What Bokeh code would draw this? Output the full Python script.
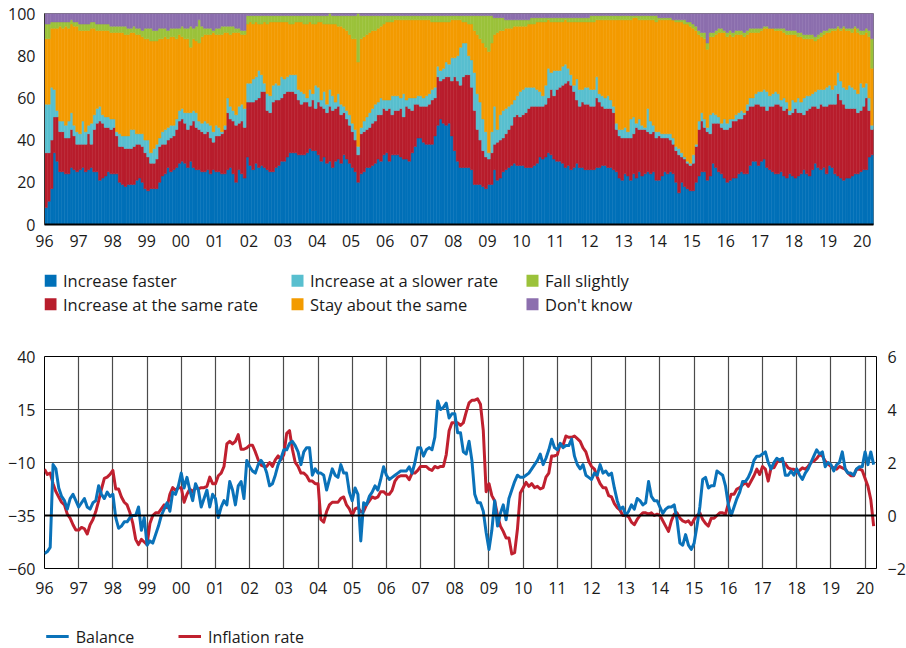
import numpy as np
from bokeh.plotting import figure
from bokeh.models import Range1d, LinearAxis, FixedTicker, Span
from bokeh.layouts import column
from bokeh.embed import file_html
from bokeh.resources import INLINE
from bokeh.core.properties import value

FONT = "Open Sans"
START_YEAR = 1996

# ---------------- top panel: survey shares (%), monthly Jan 1996 - Apr 2020 ----------------
categories = ["Increase faster", "Increase at the same rate", "Increase at a slower rate",
              "Stay about the same", "Fall slightly", "Don't know"]
colors = ["#0070b8", "#b81d2c", "#58bfcf", "#f39b00", "#9bc23a", "#8c6fae"]

faster = [
    8, 11, 17, 34, 30, 25, 25, 24, 24, 27, 26, 25,      # 96
    26, 27, 25, 26, 27, 25, 25, 21, 22, 23, 25, 24,     # 97
    24, 24, 20, 19, 18, 19, 19, 19, 21, 22, 20, 17,     # 98
    16, 17, 17, 17, 20, 23, 24, 27, 25, 26, 27, 29,     # 99
    30, 29, 27, 30, 27, 26, 26, 25, 25, 26, 24, 26,     # 00
    25, 25, 24, 24, 26, 27, 24, 20, 26, 24, 22, 32,     # 01
    28, 26, 29, 27, 28, 27, 26, 25, 25, 27, 28, 30,     # 02
    30, 32, 34, 34, 34, 33, 33, 33, 34, 36, 35, 35,     # 03
    33, 30, 32, 29, 30, 27, 30, 31, 29, 33, 31, 29,     # 04
    27, 25, 20, 24, 25, 27, 27, 28, 29, 31, 30, 33,     # 05
    34, 30, 33, 33, 33, 32, 31, 31, 30, 34, 37, 41,     # 06
    41, 39, 38, 38, 38, 42, 47, 50, 48, 47, 48, 42,     # 07
    35, 30, 27, 27, 27, 27, 26, 19, 19, 19, 18, 17,     # 08
    19, 19, 26, 21, 22, 25, 26, 27, 28, 29, 28, 28,     # 09
    28, 27, 27, 27, 28, 29, 32, 31, 32, 34, 33, 31,     # 10
    30, 30, 29, 27, 28, 26, 27, 29, 27, 27, 26, 26,     # 11
    26, 26, 27, 27, 28, 28, 27, 27, 26, 25, 22, 21,     # 12
    24, 23, 21, 24, 22, 25, 23, 24, 25, 24, 25, 21,     # 13
    21, 23, 25, 24, 25, 24, 20, 15, 20, 18, 17, 16,     # 14
    16, 20, 23, 25, 25, 21, 23, 29, 27, 25, 24, 22,     # 15
    20, 21, 22, 22, 24, 25, 24, 24, 28, 30, 30, 28,     # 16
    30, 31, 27, 26, 25, 24, 24, 25, 23, 22, 24, 23,     # 17
    22, 23, 24, 26, 24, 23, 26, 29, 27, 26, 27, 24,     # 18
    28, 27, 24, 23, 22, 21, 22, 22, 23, 24, 24, 25,     # 19
    26, 26, 32, 33,                                     # 20
]
same_rate = [
    26, 23, 23, 17, 21, 19, 19, 17, 17, 18, 16, 13,
    12, 11, 13, 17, 11, 20, 23, 28, 26, 23, 21, 21,
    22, 18, 17, 18, 18, 17, 17, 18, 17, 16, 17, 17,
    16, 12, 12, 14, 17, 15, 14, 13, 16, 16, 18, 20,
    20, 19, 18, 17, 22, 20, 19, 19, 18, 18, 17, 13,
    17, 17, 19, 21, 27, 23, 25, 27, 22, 25, 24, 26,
    30, 32, 30, 33, 35, 36, 28, 28, 33, 32, 31, 30,
    32, 31, 29, 29, 28, 26, 24, 25, 24, 20, 24, 20,
    25, 26, 23, 24, 26, 27, 25, 25, 23, 20, 19, 18,
    17, 15, 13, 19, 19, 18, 19, 20, 20, 21, 22, 22,
    20, 25, 19, 21, 21, 23, 20, 25, 25, 20, 20, 16,
    15, 17, 18, 19, 21, 18, 23, 18, 21, 23, 22, 26,
    35, 38, 39, 43, 44, 44, 39, 35, 26, 21, 17, 15,
    12, 15, 12, 18, 18, 16, 17, 18, 19, 22, 24, 23,
    24, 26, 28, 29, 28, 27, 24, 25, 25, 26, 31, 30,
    34, 35, 37, 40, 40, 40, 36, 30, 29, 31, 31, 31,
    30, 30, 33, 31, 28, 27, 28, 28, 27, 20, 20, 20,
    17, 18, 20, 19, 24, 20, 22, 21, 19, 19, 19, 20,
    21, 18, 16, 17, 15, 14, 15, 18, 12, 13, 12, 12,
    13, 17, 22, 24, 21, 23, 20, 19, 21, 23, 22, 23,
    25, 25, 27, 27, 26, 25, 28, 30, 28, 26, 27, 29,
    26, 25, 27, 30, 31, 33, 33, 31, 31, 33, 28, 30,
    33, 30, 29, 26, 30, 32, 30, 27, 28, 31, 29, 32,
    29, 30, 33, 39, 37, 36, 33, 33, 32, 31, 29, 29,
    30, 34, 22, 12,
]
slower_rate = [
    23, 23, 25, 13, 3, 5, 5, 6, 8, 8, 5, 6,
    5, 11, 6, 4, 10, 7, 7, 7, 4, 5, 5, 5,
    4, 2, 6, 5, 6, 6, 9, 8, 5, 5, 6, 6,
    8, 5, 7, 7, 4, 6, 7, 6, 6, 5, 5, 5,
    5, 5, 8, 6, 5, 7, 4, 4, 6, 4, 6, 5,
    5, 4, 1, 2, 7, 6, 5, 5, 8, 8, 9, 9,
    9, 11, 11, 13, 8, 4, 8, 8, 8, 8, 7, 10,
    7, 7, 8, 8, 9, 5, 6, 4, 2, 8, 3, 11,
    7, 3, 8, 4, 8, 7, 3, 6, 5, 3, 4, 5,
    4, 5, 4, 3, 5, 6, 7, 7, 8, 6, 8, 4,
    5, 4, 9, 7, 7, 5, 11, 3, 5, 6, 3, 4,
    5, 4, 5, 5, 5, 5, 5, 5, 5, 7, 6, 11,
    9, 12, 18, 16, 15, 9, 13, 18, 17, 18, 15, 12,
    3, 10, 18, 6, 12, 13, 12, 11, 10, 8, 9, 12,
    12, 12, 10, 9, 9, 8, 7, 5, 9, 14, 8, 12,
    9, 8, 9, 9, 6, 5, 3, 10, 8, 6, 8, 8,
    8, 8, 10, 4, 5, 5, 6, 4, 3, 3, 3, 4,
    5, 3, 9, 8, 2, 5, 2, 1, 11, 6, 3, 3,
    2, 2, 2, 2, 3, 3, 2, 3, 2, 1, 1, 1,
    4, 1, 4, 4, 4, 2, 9, 5, 4, 3, 2, 5,
    3, 4, 1, 3, 3, 4, 1, 3, 4, 4, 5, 6,
    7, 8, 9, 5, 6, 6, 5, 3, 6, 3, 2, 6,
    3, 7, 5, 8, 7, 6, 6, 7, 9, 7, 8, 9,
    9, 7, 9, 10, 9, 8, 9, 11, 10, 9, 9, 13,
    9, 7, 6, 2,
]
stay_same = [
    31, 31, 28, 29, 39, 45, 44, 47, 44, 42, 47, 50,
    49, 43, 48, 45, 45, 41, 37, 36, 40, 41, 41, 41,
    41, 47, 48, 49, 48, 48, 46, 46, 47, 47, 46, 48,
    48, 53, 51, 49, 47, 44, 44, 42, 42, 42, 38, 36,
    34, 35, 35, 31, 34, 34, 37, 41, 41, 42, 43, 47,
    43, 44, 46, 44, 31, 34, 37, 39, 35, 33, 35, 28,
    29, 26, 26, 22, 24, 29, 33, 35, 30, 29, 30, 26,
    27, 26, 24, 24, 25, 32, 33, 33, 35, 32, 33, 29,
    31, 37, 32, 38, 31, 34, 37, 32, 37, 37, 38, 38,
    40, 43, 40, 42, 40, 39, 38, 37, 35, 35, 34, 36,
    37, 37, 35, 36, 36, 37, 35, 38, 37, 37, 37, 36,
    36, 37, 36, 35, 32, 31, 21, 23, 22, 19, 20, 18,
    18, 17, 13, 10, 10, 15, 17, 20, 28, 30, 36, 40,
    48, 42, 34, 46, 40, 38, 38, 37, 36, 35, 33, 31,
    30, 29, 30, 30, 30, 32, 33, 35, 30, 23, 24, 23,
    23, 23, 21, 21, 22, 25, 30, 27, 32, 32, 31, 31,
    32, 32, 27, 35, 36, 37, 36, 38, 41, 49, 52, 52,
    51, 53, 47, 47, 50, 47, 50, 51, 42, 48, 50, 52,
    53, 54, 54, 54, 54, 56, 59, 60, 62, 63, 65, 65,
    60, 54, 41, 36, 38, 37, 37, 36, 38, 40, 43, 41,
    41, 40, 39, 38, 37, 36, 36, 33, 31, 31, 29, 28,
    29, 29, 30, 32, 31, 29, 30, 33, 31, 32, 36, 31,
    32, 29, 31, 28, 27, 27, 26, 24, 24, 25, 26, 26,
    25, 28, 26, 21, 24, 28, 28, 26, 26, 29, 29, 23,
    25, 24, 29, 27,
]
fall_slightly = [
    7, 7, 3, 3, 3, 2, 3, 2, 3, 2, 2, 2,
    3, 3, 3, 3, 3, 3, 3, 3, 3, 3, 3, 3,
    3, 3, 3, 3, 4, 3, 2, 3, 3, 3, 3, 5,
    5, 6, 5, 5, 5, 5, 4, 4, 4, 4, 5, 3,
    5, 5, 5, 10, 5, 7, 11, 5, 3, 3, 3, 1,
    3, 3, 4, 3, 3, 4, 3, 2, 2, 2, 2, 4,
    3, 4, 3, 4, 4, 3, 4, 3, 3, 3, 3, 3,
    3, 3, 4, 4, 3, 3, 3, 4, 4, 3, 4, 4,
    3, 3, 4, 4, 5, 4, 4, 5, 5, 6, 7, 9,
    11, 11, 23, 11, 10, 9, 8, 7, 7, 6, 5, 4,
    3, 3, 3, 2, 2, 2, 2, 2, 2, 2, 2, 2,
    2, 2, 2, 2, 3, 3, 3, 3, 3, 3, 3, 2,
    2, 2, 2, 3, 3, 4, 4, 7, 9, 11, 13, 15,
    17, 13, 8, 7, 6, 6, 4, 4, 4, 3, 3, 3,
    3, 3, 2, 3, 3, 2, 2, 2, 2, 1, 2, 2,
    2, 2, 2, 1, 2, 2, 2, 2, 2, 2, 2, 2,
    3, 3, 2, 2, 2, 2, 2, 2, 2, 2, 2, 2,
    2, 2, 2, 1, 1, 2, 2, 2, 2, 2, 2, 3,
    1, 1, 1, 1, 1, 0, 1, 1, 1, 2, 1, 2,
    2, 2, 2, 2, 3, 3, 2, 2, 2, 2, 2, 1,
    2, 2, 2, 2, 2, 2, 2, 2, 2, 2, 2, 2,
    1, 1, 1, 0, 0, 1, 1, 1, 2, 2, 2, 2,
    2, 2, 2, 2, 2, 2, 2, 2, 2, 2, 2, 1,
    2, 1, 1, 1, 1, 1, 1, 1, 2, 1, 2, 2,
    2, 2, 3, 14,
]
dont_know = [
    5, 5, 4, 4, 4, 4, 4, 4, 4, 3, 4, 4,
    5, 5, 5, 5, 4, 4, 5, 5, 5, 5, 5, 6,
    6, 6, 6, 6, 6, 7, 7, 6, 7, 7, 8, 7,
    7, 7, 8, 8, 7, 7, 7, 8, 7, 7, 7, 7,
    6, 7, 7, 6, 7, 6, 3, 6, 7, 7, 7, 8,
    7, 7, 6, 6, 6, 6, 6, 7, 7, 8, 8, 1,
    1, 1, 1, 1, 1, 1, 1, 1, 1, 1, 1, 1,
    1, 1, 1, 1, 1, 1, 1, 1, 1, 1, 1, 1,
    1, 1, 1, 1, 0, 1, 1, 1, 1, 1, 1, 1,
    1, 1, 0, 1, 1, 1, 1, 1, 1, 1, 1, 1,
    1, 1, 1, 1, 1, 1, 1, 1, 1, 1, 1, 1,
    1, 1, 1, 1, 1, 1, 1, 1, 1, 1, 1, 1,
    1, 1, 1, 1, 1, 1, 1, 1, 1, 1, 1, 1,
    1, 1, 2, 2, 2, 2, 3, 3, 3, 3, 3, 3,
    3, 3, 3, 2, 2, 2, 2, 2, 2, 2, 2, 2,
    2, 2, 2, 2, 2, 2, 2, 2, 2, 2, 2, 2,
    1, 1, 1, 1, 1, 1, 1, 1, 1, 1, 1, 1,
    1, 1, 1, 1, 1, 1, 1, 1, 1, 1, 1, 1,
    2, 2, 2, 2, 2, 3, 3, 3, 3, 3, 4, 4,
    5, 6, 8, 9, 9, 14, 9, 9, 8, 7, 7, 8,
    9, 8, 9, 8, 8, 8, 9, 8, 7, 7, 7, 7,
    7, 6, 6, 7, 7, 7, 7, 7, 7, 8, 8, 8,
    8, 9, 9, 10, 10, 10, 10, 11, 10, 9, 8, 8,
    7, 7, 7, 6, 7, 6, 7, 7, 7, 6, 7, 8,
    8, 7, 8, 12,
]

# ---------------- bottom panel: balance (left axis) and inflation rate (right axis, %) ----------------
balance = [
    -53, -52, -50, -11, -13, -22, -26, -28, -32, -27, -25, -28,
    -31, -29, -27, -31, -32, -29, -28, -21, -25, -27, -24, -26,
    -25, -36, -41, -40, -38, -38, -36, -35, -35, -31, -42, -36,
    -49, -47, -48, -44, -40, -35, -32, -29, -33, -24, -25, -21,
    -15, -22, -17, -23, -28, -20, -23, -31, -27, -23, -31, -25,
    -27, -36, -31, -28, -30, -19, -23, -30, -21, -19, -27, -9,
    -12, -14, -15, -11, -9, -11, -15, -21, -20, -16, -11, -8,
    -4, -4, -1, 0, -2, -5, -11, -5, -3, -3, -16, -13,
    -15, -15, -16, -23, -18, -13, -16, -17, -11, -15, -15, -24,
    -28, -22, -25, -47, -29, -30, -26, -24, -21, -23, -18, -12,
    -16, -18, -17, -16, -15, -14, -14, -14, -12, -15, -10, -3,
    -3, -7, -4, -3, -4, 2, 19, 15, 16, 18, 11, 13,
    13, 4, 4, -5, -6, 0, -9, -25, -29, -29, -33, -43,
    -51, -42, -28, -40, -34, -30, -37, -27, -23, -19, -16, -17,
    -17, -16, -15, -13, -11, -9, -6, -11, -8, -4, 1, -3,
    -4, -1, -3, -2, -2, 1, -7, -11, -13, -11, -16, -17,
    -18, -15, -16, -11, -15, -14, -16, -15, -22, -28, -32, -31,
    -35, -33, -30, -32, -27, -28, -30, -29, -19, -26, -28, -28,
    -31, -34, -32, -31, -31, -30, -37, -48, -49, -44, -49, -51,
    -48, -40, -31, -18, -17, -22, -21, -21, -14, -15, -16, -21,
    -30, -35, -31, -27, -24, -19, -19, -17, -14, -9, -7, -7,
    -6, -5, -10, -13, -10, -8, -9, -8, -16, -16, -14, -16,
    -13, -16, -18, -15, -13, -10, -7, -4, -6, -5, -12, -10,
    -11, -14, -11, -10, -5, -13, -15, -15, -16, -13, -12, -12,
    -5, -11, -5, -11,
]
inflation = [
    1.75, 1.55, 1.6, 1.2, 0.9, 0.7, 0.5, 0.4, 0.05, -0.1, -0.35, -0.55,
    -0.55, -0.45, -0.5, -0.7, -0.35, -0.15, 0.15, 0.55, 1.0, 1.4, 1.45, 1.55,
    1.7, 1.0, 1.0, 0.7, 0.5, 0.4, 0.1, -0.3, -0.9, -1.1, -0.9, -1.0,
    -1.1, -0.3, 0.0, 0.1, 0.1, 0.25, 0.4, 0.3, 0.8, 1.05, 0.95, 1.05,
    1.05, 0.5, 0.8, 1.0, 0.9, 1.05, 1.0, 1.05, 1.05, 1.1, 1.45, 1.2,
    1.2, 1.5, 1.6, 1.85, 2.7, 2.8, 2.7, 2.8, 3.05, 2.5, 2.5, 2.55,
    2.65, 2.65, 2.4, 2.1, 1.9, 1.85, 1.85, 2.0, 1.85, 2.1, 2.25, 2.1,
    2.3, 3.1, 3.2, 2.5, 2.0, 1.85, 1.6, 1.6, 1.5, 1.3, 1.3, 1.2,
    1.2, -0.15, -0.25, 0.15, 0.4, 0.5, 0.5, 0.5, 0.65, 0.7, 0.4, 0.25,
    0.0, 0.25, 0.3, 0.15, 0.15, 0.4, 0.55, 0.7, 0.65, 0.7, 0.9, 0.9,
    0.8, 0.8, 0.95, 1.3, 1.45, 1.5, 1.5, 1.5, 1.35, 1.6, 1.6, 1.7,
    1.85, 1.85, 1.85, 1.75, 1.7, 1.85, 1.8, 1.85, 1.85, 2.3, 3.2, 3.5,
    3.5, 3.5, 3.4, 3.5, 3.9, 4.25, 4.35, 4.35, 4.4, 4.2, 3.2, 0.9,
    1.2, 0.75, 0.55, 0.0, -0.4, -0.6, -0.85, -0.85, -1.45, -1.4, -0.5, 0.85,
    1.05, 1.25, 1.1, 1.2, 1.05, 1.1, 1.0, 1.05, 1.45, 1.6, 2.25, 2.25,
    2.3, 2.7, 2.65, 3.0, 2.95, 2.95, 3.0, 2.9, 2.8, 2.55, 2.4, 2.05,
    1.85, 1.75, 1.45, 1.2, 1.05, 1.05, 0.75, 0.7, 0.45, 0.3, 0.2, 0.0,
    0.0, -0.05, -0.25, -0.35, -0.15, 0.0, 0.1, 0.1, 0.05, 0.1, 0.0, 0.05,
    0.0, -0.2, -0.4, -0.6, -0.2, 0.05, 0.1, -0.1, -0.2, -0.25, -0.2, -0.35,
    -0.15, 0.0, 0.1, -0.15, -0.3, -0.4, -0.1, -0.1, 0.0, 0.1, 0.1, 0.05,
    0.45, 0.8, 0.8, 1.0, 1.05, 1.15, 1.25, 1.1, 1.3, 1.5, 1.75, 1.55,
    1.85, 1.75, 1.3, 1.8, 1.8, 2.0, 2.1, 2.05, 1.95, 1.8, 1.75, 1.75,
    1.6, 1.7, 1.8, 1.75, 1.85, 2.0, 2.05, 2.15, 2.3, 2.25, 2.05, 1.95,
    1.85, 1.8, 1.75, 1.85, 1.8, 1.75, 1.6, 1.5, 1.5, 1.75, 1.75, 1.7,
    1.4, 1.1, 0.6, -0.4,
]
line_names = ["Balance", "Inflation rate"]
line_colors = ["#0a72b9", "#c0202f"]

years = list(range(1996, 2021))
year_labels = ["96", "97", "98", "99", "00", "01", "02", "03", "04", "05", "06", "07",
               "08", "09", "10", "11", "12", "13", "14", "15", "16", "17", "18", "19", "20"]
share_ticks = [0, 20, 40, 60, 80, 100]
balance_ticks = [-60, -35, -10, 15, 40]
inflation_ticks = [-2, 0, 2, 4, 6]

n = len(faster)
month_left = START_YEAR + np.arange(n) / 12.0
month_right = month_left + 1 / 12.0
x_end = START_YEAR + n / 12.0

TEXT_COLOR = "#1a1a1a"
TICK_SIZE = "16px"
LEFT = 44  # left border shared by every figure (frames aligned)


def style_axis(ax, standoff):
    ax.major_label_text_font = FONT
    ax.major_label_text_font_size = TICK_SIZE
    ax.major_label_text_color = TEXT_COLOR
    ax.major_tick_line_color = None
    ax.minor_tick_line_color = None
    ax.major_tick_out = 0
    ax.major_tick_in = 0
    ax.minor_tick_out = 0
    ax.minor_tick_in = 0
    ax.major_label_standoff = standoff


def minus(v):
    return str(v).replace("-", "\u2212")


# ---------------- figure 1: stacked monthly bars ----------------
p1 = figure(frame_width=829, frame_height=211,
            x_range=Range1d(START_YEAR, x_end), y_range=Range1d(0, 100),
            output_backend="svg", toolbar_location=None,
            min_border_left=LEFT, min_border_top=13, min_border_bottom=32, min_border_right=25)
shares = np.array([faster, same_rate, slower_rate, stay_same, fall_slightly, dont_know], dtype=float)
tops = np.cumsum(shares, axis=0)
bottoms = tops - shares
for k, c in enumerate(colors):
    p1.quad(left=month_left, right=month_right, bottom=bottoms[k], top=tops[k],
            fill_color=c, line_color=c, line_width=0.5)
p1.xgrid.visible = False
p1.ygrid.visible = False
p1.outline_line_color = "#7a7a7a"
p1.outline_line_width = 1
style_axis(p1.xaxis[0], 10)
p1.xaxis.ticker = FixedTicker(ticks=years)
p1.xaxis.major_label_overrides = {y: lab for y, lab in zip(years, year_labels)}
p1.xaxis.axis_line_color = "black"
p1.xaxis.axis_line_width = 2
style_axis(p1.yaxis[0], 9)
p1.yaxis.ticker = FixedTicker(ticks=share_ticks)
p1.yaxis.axis_line_color = "#333333"
p1.yaxis.axis_line_width = 1

# ---------------- figure 2: legend of the stacked bars (frame starts at the plot's left edge) ----------------
L1_W, L1_H = 820, 61
p2 = figure(frame_width=L1_W, frame_height=L1_H, x_range=Range1d(0, L1_W), y_range=Range1d(L1_H, 0),
            x_axis_location=None, y_axis_location=None, output_backend="svg", toolbar_location=None,
            min_border_left=LEFT, min_border_right=0, min_border_top=0, min_border_bottom=0)
p2.grid.visible = False
p2.outline_line_color = None
col_x = [0, 247, 482]
row_y = [24.3, 47.7]
sq_x, sq_y, tx_x = [], [], []
for k in range(len(categories)):
    cx = col_x[k // 2]
    ry = row_y[k % 2]
    sq_x.append(cx + 6)
    sq_y.append(ry)
    tx_x.append(cx + 18.5)
p2.rect(x=sq_x, y=sq_y, width=12, height=12, fill_color=colors, line_color=None)
p2.text(x=tx_x, y=sq_y, text=categories, text_font=value(FONT), text_font_size="16.5px",
        text_color=TEXT_COLOR, text_baseline="middle", text_align="left")

# ---------------- figure 3: balance and inflation ----------------
p3 = figure(frame_width=832, frame_height=212,
            x_range=Range1d(START_YEAR, x_end), y_range=Range1d(-60, 40),
            output_backend="svg", toolbar_location=None,
            min_border_left=LEFT, min_border_top=39, min_border_bottom=37, min_border_right=30)
p3.extra_y_ranges = {"infl": Range1d(-2, 6)}
p3.outline_line_color = "black"
p3.outline_line_width = 1
p3.xgrid.ticker = FixedTicker(ticks=years)
p3.xgrid.grid_line_color = "#4a4a4a"
p3.xgrid.grid_line_width = 1.2
p3.ygrid.ticker = FixedTicker(ticks=[-10, 15])
p3.ygrid.grid_line_color = "#4a4a4a"
p3.ygrid.grid_line_width = 1.2
p3.add_layout(Span(location=0, dimension="width", y_range_name="infl",
                   line_color="black", line_width=2.2))
xa = p3.xaxis[0]
style_axis(xa, 13)
xa.ticker = FixedTicker(ticks=years)
xa.major_label_overrides = {y: lab for y, lab in zip(years, year_labels)}
xa.axis_line_color = None
ya = p3.yaxis[0]
style_axis(ya, 9)
ya.ticker = FixedTicker(ticks=balance_ticks)
ya.major_label_overrides = {v: minus(v) for v in balance_ticks}
ya.axis_line_color = None
ra = LinearAxis(y_range_name="infl", ticker=FixedTicker(ticks=inflation_ticks))
style_axis(ra, 11)
ra.major_label_overrides = {v: minus(v) for v in inflation_ticks}
ra.axis_line_color = None
p3.add_layout(ra, "right")

month_x = START_YEAR + np.arange(len(balance)) / 12.0
p3.line(month_x, inflation, y_range_name="infl", line_color=line_colors[1], line_width=3,
        line_join="round")
p3.line(month_x, balance, line_color=line_colors[0], line_width=3, line_join="round")

# ---------------- figure 4: legend of the lines ----------------
L2_W, L2_H = 820, 42
p4 = figure(frame_width=L2_W, frame_height=L2_H, x_range=Range1d(0, L2_W), y_range=Range1d(L2_H, 0),
            x_axis_location=None, y_axis_location=None, output_backend="svg", toolbar_location=None,
            min_border_left=LEFT, min_border_right=0, min_border_top=0, min_border_bottom=0)
p4.grid.visible = False
p4.outline_line_color = None
seg_x0 = [1.7, 134]
seg_y = [31, 31]
p4.segment(x0=seg_x0, y0=seg_y, x1=[x + 22.5 for x in seg_x0], y1=seg_y,
           line_color=line_colors, line_width=3)
p4.text(x=[x + 29.5 for x in seg_x0], y=seg_y, text=line_names, text_font=value(FONT),
        text_font_size="16px", text_color=TEXT_COLOR, text_baseline="middle", text_align="left")

layout = column(p1, p2, p3, p4, spacing=0)
open("out.html", "w").write(file_html(layout, INLINE))
